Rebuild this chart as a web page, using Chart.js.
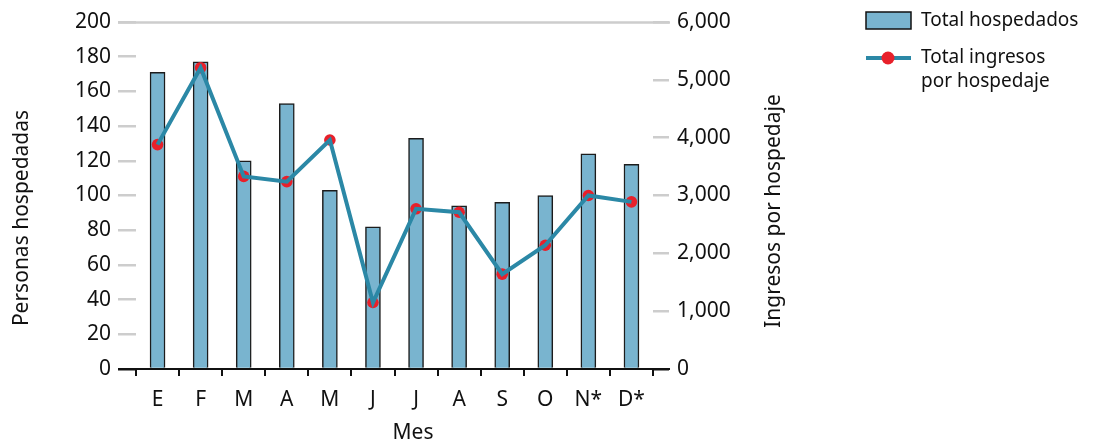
<!DOCTYPE html>
<html>
<head>
<meta charset="utf-8">
<script src="https://cdn.jsdelivr.net/npm/chart.js@4.4.1/dist/chart.umd.min.js"></script>
<style>
  html, body { margin: 0; padding: 0; background: #fff; }
  #wrap { width: 1093px; height: 443px; position: relative; }
</style>
</head>
<body>
<div id="wrap"><canvas id="chart" width="1093" height="443"></canvas></div>
<script>
const months = ['E', 'F', 'M', 'A', 'M', 'J', 'J', 'A', 'S', 'O', 'N*', 'D*'];
const guests = [171, 177, 120, 153, 103, 82, 133, 94, 96, 100, 124, 118];
const income = [3880, 5210, 3330, 3240, 3960, 1150, 2770, 2710, 1640, 2140, 3000, 2890];
const leftTicks = [0, 20, 40, 60, 80, 100, 120, 140, 160, 180, 200];
const rightTicks = [0, 1000, 2000, 3000, 4000, 5000, 6000];

const FONT = '"Noto Sans", "Open Sans", sans-serif';
const barFill = '#79b4cf';
const lineColor = '#2b88a6';
const dotColor = '#e8202a';
const dashGray = '#cdcdcd';

// frame lines, axis titles and legend
const decor = {
  id: 'decor',
  beforeDatasetsDraw(chart) {
    const { ctx } = chart;
    const yL = chart.scales.y;
    ctx.save();
    ctx.strokeStyle = dashGray;
    ctx.lineWidth = 2.5;
    ctx.beginPath();
    ctx.moveTo(118, yL.getPixelForValue(200) + 0.5);
    ctx.lineTo(670, yL.getPixelForValue(200) + 0.5);
    ctx.stroke();
    ctx.restore();
  },
  afterDraw(chart) {
    const { ctx } = chart;
    const yL = chart.scales.y;
    ctx.save();
    // zero line
    ctx.strokeStyle = '#111';
    ctx.lineWidth = 2;
    ctx.beginPath();
    ctx.moveTo(118, yL.getPixelForValue(0));
    ctx.lineTo(670, yL.getPixelForValue(0));
    ctx.stroke();

    ctx.fillStyle = '#111';
    ctx.font = '21px ' + FONT;
    ctx.textAlign = 'center';
    ctx.textBaseline = 'middle';

    ctx.save();
    ctx.translate(22, 218);
    ctx.rotate(-Math.PI / 2);
    ctx.fillText('Personas hospedadas', 0, 0);
    ctx.restore();

    ctx.save();
    ctx.translate(774, 211);
    ctx.rotate(-Math.PI / 2);
    ctx.fillText('Ingresos por hospedaje', 0, 0);
    ctx.restore();

    ctx.fillText('Mes', 413, 433);

    // legend
    ctx.font = '19px ' + FONT;
    ctx.fillStyle = barFill;
    ctx.fillRect(866, 12, 45, 17);
    ctx.strokeStyle = '#111';
    ctx.lineWidth = 1.5;
    ctx.strokeRect(866, 12, 45, 17);

    ctx.strokeStyle = lineColor;
    ctx.lineWidth = 4;
    ctx.beginPath();
    ctx.moveTo(866, 58);
    ctx.lineTo(911, 58);
    ctx.stroke();
    ctx.fillStyle = dotColor;
    ctx.beginPath();
    ctx.arc(888, 58, 6.5, 0, Math.PI * 2);
    ctx.fill();

    ctx.fillStyle = '#111';
    ctx.textAlign = 'left';
    ctx.fillText('Total hospedados', 921, 21);
    ctx.fillText('Total ingresos', 921, 58);
    ctx.fillText('por hospedaje', 921, 82);
    ctx.restore();
  }
};

new Chart(document.getElementById('chart'), {
  data: {
    labels: months,
    datasets: [
      {
        type: 'bar',
        label: 'Total hospedados',
        data: guests,
        yAxisID: 'y',
        backgroundColor: barFill,
        borderColor: '#1c1c1c',
        borderWidth: 1.5,
        barThickness: 15,
        order: 3
      },
      {
        type: 'line',
        label: 'dots',
        data: income,
        yAxisID: 'y2',
        showLine: false,
        pointRadius: 5.8,
        pointBackgroundColor: dotColor,
        pointBorderWidth: 0,
        order: 2
      },
      {
        type: 'line',
        label: 'Total ingresos por hospedaje',
        data: income,
        yAxisID: 'y2',
        borderColor: lineColor,
        borderWidth: 4,
        pointRadius: 0,
        tension: 0,
        order: 1
      }
    ]
  },
  options: {
    responsive: false,
    animation: false,
    layout: { padding: { top: 22 } },
    plugins: { legend: { display: false }, tooltip: { enabled: false } },
    scales: {
      x: {
        offset: true,
        afterFit: s => { s.height = 74; },
        border: { display: false },
        grid: {
          offset: true,
          drawOnChartArea: false,
          drawTicks: true,
          tickLength: 7,
          color: '#111',
          lineWidth: 2
        },
        ticks: { color: '#111', font: { family: FONT, size: 21 }, padding: 11, maxRotation: 0 }
      },
      y: {
        position: 'left',
        min: 0,
        max: 200,
        afterFit: s => { s.width = 136; },
        afterBuildTicks: s => { s.ticks = leftTicks.map(v => ({ value: v })); },
        border: { display: false },
        grid: {
          drawOnChartArea: false,
          drawTicks: true,
          tickLength: 18,
          lineWidth: 2.5,
          color: c => (c.tick && c.tick.value === 0 ? '#111' : dashGray)
        },
        ticks: { color: '#111', font: { family: FONT, size: 21 }, padding: 7 }
      },
      y2: {
        position: 'right',
        min: 0,
        max: 6000,
        afterFit: s => { s.width = 440; },
        afterBuildTicks: s => { s.ticks = rightTicks.map(v => ({ value: v })); },
        border: { display: false },
        grid: {
          drawOnChartArea: false,
          drawTicks: true,
          tickLength: 16,
          lineWidth: 2.5,
          color: c => (c.tick && c.tick.value === 0 ? '#111' : dashGray)
        },
        ticks: {
          color: '#111',
          font: { family: FONT, size: 21 },
          padding: 8,
          callback: v => v.toLocaleString('en-US')
        }
      }
    }
  },
  plugins: [decor]
});
</script>
</body>
</html>
